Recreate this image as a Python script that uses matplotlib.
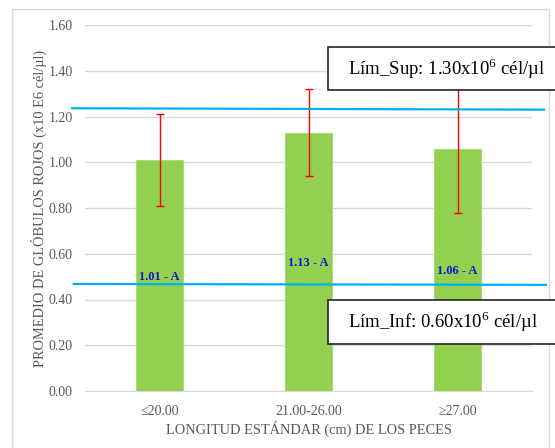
import matplotlib
matplotlib.use("Agg")
import matplotlib.pyplot as plt
from matplotlib.patches import Rectangle
import matplotlib.transforms as mtransforms

plt.rcParams['font.family'] = ['Liberation Serif', 'DejaVu Serif']
plt.rcParams['mathtext.fontset'] = 'custom'
plt.rcParams['mathtext.rm'] = 'Liberation Serif'

# datos
categorias = ['≤20.00', '21.00-26.00', '≥27.00']
promedios = [1.01, 1.13, 1.06]
desv = [0.20, 0.19, 0.28]
etiquetas = ['1.01 - A', '1.13 - A', '1.06 - A']
lim_sup_linea = [1.236, 1.230]
lim_inf_linea = [0.468, 0.464]
y_ticks = [0.0, 0.2, 0.4, 0.6, 0.8, 1.0, 1.2, 1.4, 1.6]

W, H = 555, 448
fig = plt.figure(figsize=(W / 100, H / 100), dpi=100)
ax = fig.add_axes([85 / W, 1 - 391 / H, (532 - 85) / W, (391 - 25) / H])

gris = '#595959'
x = range(len(categorias))
ax.bar(x, promedios, width=0.31, color='#92D050', edgecolor='#A9DA7E',
       linewidth=0.8, zorder=2)
ax.errorbar(x, promedios, yerr=desv, fmt='none', ecolor='#FF0000',
            elinewidth=1, capsize=3, capthick=1, zorder=3)

ax.set_xlim(-0.5, 2.5)
ax.set_ylim(0, 1.6)
ax.set_yticks(y_ticks)
ax.set_yticklabels([f'{v:.2f}' for v in y_ticks])
ax.set_xticks(list(x))
ax.set_xticklabels(categorias)
ax.tick_params(length=0, colors=gris, labelsize=10)
ax.tick_params(axis='y', pad=9)
ax.tick_params(axis='x', pad=10)
ax.grid(axis='y', color='#D9D9D9', linewidth=1, zorder=0)
ax.set_axisbelow(True)
for s in ['top', 'right', 'left']:
    ax.spines[s].set_visible(False)
ax.spines['bottom'].set_color('#D9D9D9')

ax.set_ylabel('PROMEDIO DE GLÓBULOS ROJOS (x10 E6 cél/µl)', color=gris, fontsize=10.4)
ax.yaxis.set_label_coords(-0.085, 0.5)
ax.set_xlabel('LONGITUD ESTÁNDAR (cm) DE LOS PECES', color=gris, fontsize=10.4)
ax.xaxis.set_label_coords(0.5, -0.082)

# lineas de limites
tr = mtransforms.blended_transform_factory(ax.transAxes, ax.transData)
ax.plot([-0.029, 1.027], lim_sup_linea, color='#00B0F0', lw=1.6,
        transform=tr, clip_on=False, zorder=4)
ax.plot([-0.025, 1.031], lim_inf_linea, color='#00B0F0', lw=1.6,
        transform=tr, clip_on=False, zorder=4)

# etiquetas de barras
label_y = [0.498, 0.56, 0.525]
for i, t in enumerate(etiquetas):
    ax.text(i, label_y[i], t, ha='center', va='center', fontsize=9,
            fontweight='bold', color='#1414CC', zorder=5)

# borde exterior
fig.patches.append(Rectangle((12 / W, -0.02), (549 - 12) / W, 1.02 - 9 / H,
                             transform=fig.transFigure, fill=False,
                             edgecolor='#D9D9D9', lw=1))

# cuadros de limites
for y0, y1, txt in [(47, 90, 'Lím_Sup: 1.30x10$^{6}$ cél/µl'),
                    (300, 344, 'Lím_Inf: 0.60x10$^{6}$ cél/µl')]:
    fig.patches.append(Rectangle((328 / W, 1 - y1 / H), (560 - 328) / W, (y1 - y0) / H,
                                 transform=fig.transFigure, facecolor='white',
                                 edgecolor='#262626', lw=1.2, zorder=6))
    fig.text(348 / W, 1 - (y0 + y1) / 2 / H, txt, ha='left', va='center',
             fontsize=13.5, color='black', zorder=7)

fig.savefig('out.png', dpi=100)
